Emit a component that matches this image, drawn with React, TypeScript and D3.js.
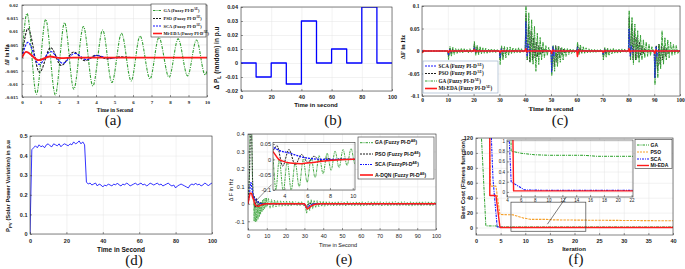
import React, { useEffect, useRef } from "react";
import * as d3 from "d3";

type P = [number, number];

const SERIF = "'Liberation Serif','Times New Roman',serif";
const SANS = "'Liberation Sans',Arial,sans-serif";
const C_GREEN = "#34a034";
const C_BLACK = "#1c1c1c";
const C_BLUE = "#1414ff";
const C_RED = "#ff1a1a";
const C_ORANGE = "#f5a02a";

// ---------------- (a) frequency deviation, 0-10 s ----------------
const aXTicks = [0, 1, 2, 3, 4, 5, 6, 7, 8, 9, 10];
const aYTicks = [-0.015, -0.01, -0.005, 0, 0.005, 0.01, 0.015, 0.02];
const aGA: P[] = [[0, 0], [0.27, 0.0168], [0.78, -0.0139], [1.28, 0.0145], [1.8, -0.0142], [2.3, 0.0133], [2.8, -0.012], [3.32, 0.0118], [3.83, -0.0108], [4.36, 0.0105], [4.86, -0.0095], [5.38, 0.0092], [5.9, -0.0089], [6.38, 0.0082], [6.92, -0.0081], [7.4, 0.0076], [7.95, -0.0075], [8.44, 0.0071], [8.95, -0.007], [9.43, 0.0067], [9.9, -0.0066], [10, -0.005]];
const aPSO: P[] = [[0, 0], [0.32, 0.011], [0.95, -0.0056], [1.55, 0.0038], [2.12, -0.003], [2.8, 0.0021], [3.4, -0.0012], [4.0, 0.0009], [4.6, -0.0005], [5.3, 0.0003], [6, 0], [10, 0]];
const aSCA: P[] = [[0, 0], [0.32, 0.0058], [0.92, -0.0026], [1.55, 0.0023], [2.2, -0.0022], [2.85, 0.0016], [3.5, -0.0008], [4.05, 0.0008], [4.7, -0.0002], [5.3, 0], [10, 0]];
const aMiEDA: P[] = [[0, 0], [0.22, 0.0022], [0.9, -0.001], [1.5, 0.0004], [2.1, -0.0002], [2.8, 0], [10, 0]];
const aLegend = ["GA (Fuzzy PI-D", "PSO (Fuzzy PI-D", "SCA (Fuzzy PI-D", "Mi-EDA (Fuzzy PI-D"];

// ---------------- (b) random load ----------------
const bXTicks = [0, 20, 40, 60, 80, 100];
const bYTicks = [-0.02, -0.01, 0, 0.01, 0.02, 0.03, 0.04];
const bTimes = [0, 10, 20, 30, 40, 50, 60, 70, 80, 90, 100];
const bValues = [0, -0.01, 0, -0.015, 0.03, 0, 0.01, 0, 0.04, 0, 0];

// ---------------- (c) frequency deviation, 0-100 s ----------------
const cXTicks = [0, 10, 20, 30, 40, 50, 60, 70, 80, 90, 100];
const cYTicks = [-0.1, -0.05, 0, 0.05, 0.1];
const cEvents = [10, 20, 30, 40, 50, 60, 70, 80, 90];
const cGA: number[][] = [
  [-0.019, 0.01, -0.012, 0.008, -0.008, 0.006, -0.006, 0.005, -0.004, 0.006, -0.004, 0.005, -0.003, 0.004, -0.004, 0.005, -0.003],
  [0.021, -0.01, 0.013, -0.008, 0.01, -0.006, 0.007, -0.005, 0.006, -0.005, 0.004, -0.004, 0.005, -0.003, 0.004, -0.004, 0.003],
  [-0.03, 0.012, -0.02, 0.01, -0.015, 0.008, -0.01, 0.009, -0.006, 0.007, -0.005, 0.006, -0.004, 0.007, -0.004, 0.005, -0.003],
  [0.1, -0.02, 0.085, -0.025, 0.07, -0.03, 0.055, -0.045, 0.04, -0.03, 0.03, -0.02, 0.02, -0.015, 0.012, -0.01, 0.008],
  [-0.055, 0.012, -0.045, 0.01, -0.035, 0.01, -0.025, 0.008, -0.02, 0.006, -0.012, 0.006, -0.008, 0.005, -0.006, 0.004, -0.004],
  [0.02, -0.008, 0.014, -0.006, 0.01, -0.005, 0.007, -0.004, 0.005, -0.004, 0.004, -0.003, 0.004, -0.003, 0.003, -0.003, 0.003],
  [-0.02, 0.008, -0.014, 0.006, -0.01, 0.005, -0.007, 0.006, -0.005, 0.004, -0.005, 0.004, -0.004, 0.005, -0.003, 0.004, -0.003],
  [0.09, -0.02, 0.075, -0.03, 0.06, -0.02, 0.045, -0.025, 0.035, -0.02, 0.025, -0.015, 0.02, -0.012, 0.015, -0.01, 0.01],
  [-0.075, 0.01, -0.06, 0.015, -0.04, 0.045, -0.03, 0.03, -0.02, 0.025, -0.015, 0.02, -0.01, 0.015, -0.008, 0.012, -0.006],
];
const cPSO: number[][] = [
  [-0.012, 0.006, -0.006, 0.004, -0.003, 0.002, -0.001],
  [0.015, -0.006, 0.008, -0.004, 0.004, -0.002, 0.001],
  [-0.02, 0.008, -0.012, 0.006, -0.006, 0.003, -0.002],
  [0.08, -0.02, 0.06, -0.025, 0.045, -0.02, 0.03, -0.015, 0.02, -0.012, 0.012, -0.008, 0.008, -0.005, 0.004],
  [-0.045, 0.01, -0.035, 0.012, -0.025, 0.01, -0.015, 0.006, -0.01, 0.004, -0.005],
  [0.012, -0.005, 0.007, -0.003, 0.003],
  [-0.013, 0.006, -0.007, 0.004, -0.003],
  [0.075, -0.02, 0.06, -0.02, 0.045, -0.02, 0.03, -0.015, 0.02, -0.01, 0.012, -0.006, 0.006],
  [-0.06, 0.012, -0.045, 0.015, -0.03, 0.012, -0.02, 0.01, -0.012, 0.006, -0.006],
];
const cSCA: number[][] = [
  [-0.01, 0.004, -0.002],
  [0.008, -0.003, 0.002],
  [-0.015, 0.005, -0.003],
  [0.065, -0.012, 0.015, -0.005, 0.004],
  [-0.047, 0.01, -0.012, 0.004, -0.002],
  [0.008, -0.003, 0.002],
  [-0.008, 0.003, -0.002],
  [0.05, -0.012, 0.012, -0.004, 0.003],
  [-0.06, 0.01, -0.012, 0.004, -0.002],
];
const cMiEDAEvents = [0, 10, 20, 30, 40, 50, 60, 70, 80, 90];
const cMiEDA: number[][] = [
  [-0.003, 0.001],
  [-0.003, 0.001],
  [0.003, -0.001],
  [-0.003, 0.001],
  [0.005, -0.002],
  [-0.005, 0.002],
  [-0.012, 0.002],
  [-0.003, 0.001],
  [0.005, -0.002],
  [-0.005, 0.002],
];
const cLegend = ["SCA (Fuzzy PI-D", "PSO (Fuzzy PI-D", "GA (Fuzzy PI-D", "Mi-EDA (Fuzzy PI-D"];

// ---------------- (d) PV power ----------------
const dXTicks = [0, 20, 40, 60, 80, 100];
const dYTicks = [0, 0.1, 0.2, 0.3, 0.4, 0.5];
const dPVFirst = [0, 0.43, 0.44, 0.45, 0.44, 0.455, 0.445, 0.45, 0.44, 0.455, 0.46,
  0.45, 0.445, 0.46, 0.455, 0.45, 0.46, 0.445, 0.455, 0.46, 0.455,
  0.45, 0.46, 0.455, 0.47, 0.46, 0.465, 0.475, 0.46, 0.47, 0.455];
const dPVSecond = [0.265, 0.255, 0.26, 0.25, 0.255, 0.26, 0.245, 0.255, 0.25, 0.24,
  0.25, 0.245, 0.255, 0.25, 0.245, 0.255, 0.25, 0.26, 0.25, 0.245,
  0.255, 0.25, 0.26, 0.255, 0.245, 0.25, 0.255, 0.26, 0.25, 0.255,
  0.26, 0.25, 0.255, 0.245, 0.25, 0.26, 0.255, 0.25, 0.255, 0.26,
  0.25, 0.255, 0.245, 0.25, 0.255, 0.26, 0.25, 0.245, 0.25, 0.235,
  0.245, 0.25, 0.255, 0.25, 0.245, 0.24, 0.235, 0.25, 0.255, 0.25,
  0.26, 0.25, 0.255, 0.245, 0.25, 0.26, 0.255, 0.245, 0.255, 0.26];

// ---------------- (e) frequency deviation with A-DQN ----------------
const eXTicks = [0, 10, 20, 30, 40, 50, 60, 70, 80, 90, 100];
const eYTicks = [-0.1, 0, 0.1, 0.2, 0.3, 0.4];
const eInXTicks = [4, 6, 8, 10];
const eInYTicks = [-0.1, -0.05, 0, 0.05];
const eGAHead: P[] = [[0, 0], [0.6, 0.06], [1.1, 0.45], [1.9, 0.45], [2.5, 0.06], [3.0, 0.0], [3.25, -0.1], [3.55, 0.0], [3.9, -0.105], [4.25, -0.008], [4.6, -0.1], [4.95, -0.01], [5.3, -0.09], [5.65, 0.0], [6.0, -0.075], [6.35, 0.005], [6.7, -0.06], [7.05, 0.012], [7.4, -0.047], [7.75, 0.02], [8.1, -0.036], [8.45, 0.027], [8.8, -0.027], [9.15, 0.032], [9.5, -0.02], [9.85, 0.035], [10.2, -0.015]];
const eGATail1 = [0.03, -0.025, 0.025, -0.02, 0.022, -0.018, 0.02, -0.015, 0.018, -0.014, 0.015, -0.012, 0.016, -0.013, 0.014, -0.012, 0.015, -0.01, 0.012, -0.012, 0.013, -0.01, 0.012, -0.01];
const eGATail2 = [-0.01, -0.055, 0.02, -0.04, 0.025, -0.03, 0.02, -0.022, 0.018, -0.018, 0.016, -0.015, 0.015, -0.014,
  0.013, -0.012, 0.014, -0.011, 0.012, -0.013, 0.011, -0.01, 0.013, -0.012,
  0.012, -0.011, 0.01, -0.012, 0.013, -0.01, 0.011, -0.012, 0.01, -0.011,
  0.012, -0.01, 0.011, -0.013, 0.012, -0.011, 0.01, -0.012, 0.013, -0.01,
  0.011, -0.012, 0.012, -0.01, 0.013, -0.011, 0.012, -0.012, 0.01, -0.011,
  0.012, -0.013, 0.011, -0.01, 0.012, -0.011, 0.013, -0.012, 0.011, -0.01,
  0.012, -0.011, 0.013, -0.012, 0.01, -0.011, 0.012, -0.013, 0.011, -0.012,
  0.012, -0.01, 0.011, -0.012, 0.013, -0.011, 0.012, -0.01, 0.011, -0.012, 0.012, -0.011, 0.01];
const ePSO: P[] = [[0, 0], [0.9, 0.2], [1.3, 0.45], [1.9, 0.45], [2.4, 0.15], [2.8, 0.04], [3.0, 0.03], [3.35, 0.045], [3.85, -0.022], [4.4, 0.032], [4.95, -0.018], [5.5, 0.016], [6.05, -0.01], [6.6, 0.01], [7.15, -0.005], [7.7, 0.004], [8.3, -0.002], [8.9, 0.002], [9.5, 0], [30, 0], [31.2, -0.015], [32.5, 0.004], [34, 0], [100, 0]];
const eSCA: P[] = [[0, 0], [0.8, 0.05], [1.3, 0.12], [1.7, 0.12], [2.3, 0.07], [3.0, 0.04], [3.5, 0.03], [4.5, 0.02], [5.5, 0.008], [6.5, 0.002], [7.5, 0], [30, 0], [30.8, -0.018], [31.5, -0.02], [33, -0.008], [35, 0], [100, 0]];
const eADQN: P[] = [[0, 0], [0.5, 0.03], [1.2, 0.06], [1.8, 0.06], [2.5, 0.035], [3.0, 0.025], [3.5, 0.0], [3.8, -0.005], [4.5, -0.012], [5.5, -0.014], [6.5, -0.01], [7.5, -0.005], [9, -0.001], [10, 0], [30, 0], [30.6, -0.01], [31.5, -0.03], [32.5, -0.022], [34, -0.01], [36, -0.002], [38, 0], [100, 0]];
const eLegend = ["GA (Fuzzy PI-D", "PSO (Fuzzy PI-D", "SCA (FuzzyPI-D", "A-DQN (Fuzzy PI-D"];

// ---------------- (f) convergence ----------------
const fXTicks = [0, 5, 10, 15, 20, 25, 30, 35, 40];
const fYTicks = [0, 20, 40, 60, 80, 100, 120];
const fInXTicks = [4, 6, 8, 10, 12, 14, 16, 18, 20, 22];
const fInYTicks = [0, 0.2, 0.4, 0.6, 0.8, 1];
const fGA: P[] = [[1.0, 135], [2.0, 2.2], [4.5, 2.1], [4.6, 0.8], [5, 0.79], [6, 0.76], [8, 0.73], [10, 0.72], [15, 0.72], [17, 0.7], [22, 0.7], [40, 0.7]];
const fPSO: P[] = [[2.7, 135], [2.95, 55.5], [4.05, 55.5], [4.85, 17.5], [7.5, 17], [8.3, 15.5], [9.5, 13], [11, 11], [14, 11], [15.5, 10.3], [20, 10], [30, 9.5], [40, 9]];
const fSCA: P[] = [[3.05, 135], [3.2, 106], [3.45, 65], [3.8, 38], [4.3, 1.1], [4.6, 0.2], [6.5, 0.04], [10, 0.03], [40, 0.03]];
const fMiEDA: P[] = [[2.8, 135], [2.8, 43], [4.05, 43], [4.85, 1.1], [4.95, 0.02], [40, 0.02]];
const fLegend = ["GA", "PSO", "SCA", "Mi-EDA"];

const captions = ["(a)", "(b)", "(c)", "(d)", "(e)", "(f)"];

function buildEvents(events: number[], lists: number[][], lead: number, dt: number, end: number): P[] {
  const pts: P[] = [[0, 0]];
  events.forEach((t0, k) => {
    if (t0 > 0) pts.push([t0, 0]);
    const vals = lists[k];
    vals.forEach((v, i) => pts.push([t0 + lead + i * dt, v]));
    pts.push([t0 + lead + vals.length * dt, 0]);
  });
  pts.push([end, 0]);
  return pts;
}
function buildRun(start: number, dt: number, vals: number[]): P[] {
  return vals.map((v, i) => [start + i * dt, v] as P);
}
const fmt = (v: number) => String(+v.toFixed(4));

function drawFrame(g: any, xs: any, ys: any, o: any) {
  const [xa, xb] = xs.range();
  const [yb, ya] = ys.range();
  const w = xb - xa, h = yb - ya;
  g.append("rect").attr("x", xa).attr("y", ya).attr("width", w).attr("height", h).attr("fill", "#fff");
  const gx = g.append("g").attr("transform", `translate(0,${yb})`)
    .call(d3.axisBottom(xs).tickValues(o.xTicks).tickSize(-h).tickFormat(() => ""));
  gx.select(".domain").remove();
  gx.selectAll("line").attr("stroke", "#e4e4e4").attr("stroke-width", 0.5);
  const gy = g.append("g").attr("transform", `translate(${xa},0)`)
    .call(d3.axisLeft(ys).tickValues(o.yTicks).tickSize(-w).tickFormat(() => ""));
  gy.select(".domain").remove();
  gy.selectAll("line").attr("stroke", "#e4e4e4").attr("stroke-width", 0.5);
}
function drawAxes(g: any, xs: any, ys: any, o: any) {
  const [xa, xb] = xs.range();
  const [yb, ya] = ys.range();
  const ax = g.append("g").attr("transform", `translate(0,${yb})`)
    .call(d3.axisBottom(xs).tickValues(o.xTicks).tickSizeInner(-2).tickSizeOuter(0).tickPadding(o.xPad).tickFormat(o.xFmt || fmt));
  const ay = g.append("g").attr("transform", `translate(${xa},0)`)
    .call(d3.axisLeft(ys).tickValues(o.yTicks).tickSizeInner(-2).tickSizeOuter(0).tickPadding(o.yPad).tickFormat(o.yFmt || fmt));
  [ax, ay].forEach((a) => {
    a.attr("font-family", o.font).attr("font-size", o.size).attr("font-weight", o.weight);
    a.select(".domain").remove();
    a.selectAll("line").attr("stroke", "#333").attr("stroke-width", 0.5);
    a.selectAll("text").attr("fill", "#222");
  });
  g.append("rect").attr("x", xa).attr("y", ya).attr("width", xb - xa).attr("height", yb - ya)
    .attr("fill", "none").attr("stroke", "#333").attr("stroke-width", 0.6);
}
function clipGroup(svg: any, g: any, id: string, xs: any, ys: any) {
  const [xa, xb] = xs.range();
  const [yb, ya] = ys.range();
  svg.select("defs").append("clipPath").attr("id", id).append("rect")
    .attr("x", xa).attr("y", ya).attr("width", xb - xa).attr("height", yb - ya);
  return g.append("g").attr("clip-path", `url(#${id})`);
}
function path(g: any, data: P[], xs: any, ys: any, color: string, width: number, dash: string | null, curve: any) {
  const gen = d3.line<P>().x((d) => xs(d[0])).y((d) => ys(d[1])).curve(curve);
  g.append("path").datum(data).attr("d", gen).attr("fill", "none").attr("stroke", color)
    .attr("stroke-width", width).attr("stroke-dasharray", dash).attr("stroke-linejoin", "round");
}
function supText(g: any, x: number, y: number, base: string, sup: string | null, o: any) {
  const t = g.append("text").attr("x", x).attr("y", y).attr("font-family", o.font).attr("font-size", o.size)
    .attr("font-weight", o.weight).attr("fill", "#111");
  t.append("tspan").text(base);
  if (sup) {
    t.append("tspan").attr("dy", -o.size * 0.42).attr("font-size", o.size * 0.7).text(sup);
    t.append("tspan").attr("dy", o.size * 0.42).text(")");
  }
  return t;
}
function legend(g: any, box: number[], entries: any[], o: any) {
  g.append("rect").attr("x", box[0]).attr("y", box[1]).attr("width", box[2] - box[0]).attr("height", box[3] - box[1])
    .attr("fill", "#fff").attr("stroke", o.border || "#333").attr("stroke-width", 0.6);
  entries.forEach((e, i) => {
    const yy = o.rows[i];
    g.append("line").attr("x1", o.lx1).attr("x2", o.lx2).attr("y1", yy).attr("y2", yy)
      .attr("stroke", e.color).attr("stroke-width", e.width).attr("stroke-dasharray", e.dash);
    supText(g, o.tx, yy + o.size * 0.35, e.label, o.sup, o);
  });
}
function yLabel(g: any, x: number, y: number, parts: any[], o: any) {
  const t = g.append("text").attr("transform", `translate(${x},${y}) rotate(-90)`).attr("text-anchor", "middle")
    .attr("font-family", o.font).attr("font-size", o.size).attr("font-weight", o.weight).attr("fill", "#111");
  parts.forEach((p) => {
    const s = t.append("tspan").text(p.t);
    if (p.sub) s.attr("font-size", o.size * 0.75).attr("dy", o.size * 0.3);
    if (p.back) s.attr("dy", -o.size * 0.3);
  });
}
function xLabel(g: any, x: number, y: number, text: string, o: any) {
  g.append("text").attr("x", x).attr("y", y).attr("text-anchor", "middle").attr("font-family", o.font)
    .attr("font-size", o.size).attr("font-weight", o.weight).attr("fill", "#111").text(text);
}

export default function App() {
  const ref = useRef<SVGSVGElement>(null);
  useEffect(() => {
    const svg = d3.select(ref.current);
    svg.selectAll("*").remove();
    svg.append("defs");
    svg.append("rect").attr("width", 685).attr("height", 269).attr("fill", "#fff");
    const root = svg.append("g");
    const lin = d3.curveLinear;
    const mono = d3.curveMonotoneX;

    // ---------- (a) ----------
    {
      const g = root.append("g");
      const xs = d3.scaleLinear().domain([0, 10]).range([22, 207]);
      const ys = d3.scaleLinear().domain([-0.015, 0.02]).range([97, 5]);
      drawFrame(g, xs, ys, { xTicks: aXTicks, yTicks: aYTicks });
      const c = clipGroup(svg, g, "clipA", xs, ys);
      path(c, aGA, xs, ys, C_GREEN, 1.1, "3,1.2,1,1.2", mono);
      path(c, aPSO, xs, ys, C_BLACK, 1.1, "2.5,1.2", mono);
      path(c, aSCA, xs, ys, C_BLUE, 1.1, "2.5,1.2", mono);
      path(c, aMiEDA, xs, ys, C_RED, 1.8, null, mono);
      drawAxes(g, xs, ys, { xTicks: aXTicks, yTicks: aYTicks, xPad: 3.5, yPad: 4, font: SERIF, size: 5, weight: "bold" });
      legend(g, [151, 4, 206, 37], [
        { label: aLegend[0], color: C_GREEN, width: 1, dash: "2.5,1,1,1" },
        { label: aLegend[1], color: C_BLACK, width: 1, dash: "2,1" },
        { label: aLegend[2], color: C_BLUE, width: 1, dash: "2,1" },
        { label: aLegend[3], color: C_RED, width: 1.6, dash: null },
      ], { rows: [10.5, 18.5, 26, 33.5], lx1: 153, lx2: 162, tx: 163.5, font: SERIF, size: 4.4, weight: "bold", sup: "AE" });
      xLabel(g, 115, 112, "Time in Second", { font: SERIF, size: 5.5, weight: "bold" });
      yLabel(g, 9, 55, [{ t: "ΔF in Hz" }], { font: SERIF, size: 5.5, weight: "bold" });
    }

    // ---------- (b) ----------
    {
      const g = root.append("g");
      const xs = d3.scaleLinear().domain([0, 100]).range([241, 392]);
      const ys = d3.scaleLinear().domain([-0.02, 0.04]).range([91, 7]);
      drawFrame(g, xs, ys, { xTicks: bXTicks, yTicks: bYTicks });
      const pts: P[] = bTimes.map((t, i) => [t, bValues[i]] as P);
      const c = clipGroup(svg, g, "clipB", xs, ys);
      path(c, pts, xs, ys, "#0000ff", 1.3, null, d3.curveStepAfter);
      drawAxes(g, xs, ys, { xTicks: bXTicks, yTicks: bYTicks, xPad: 4, yPad: 3, font: SANS, size: 5.5, weight: "bold" });
      xLabel(g, 316, 107, "Time in second", { font: SANS, size: 6, weight: "bold" });
      yLabel(g, 219, 58, [{ t: "Δ P" }, { t: "L", sub: true }, { t: " (random) in p.u", back: true }], { font: SANS, size: 6.5, weight: "bold" });
    }

    // ---------- (c) ----------
    {
      const g = root.append("g");
      const xs = d3.scaleLinear().domain([0, 100]).range([422, 680]);
      const ys = d3.scaleLinear().domain([-0.1, 0.1]).range([96, 6]);
      drawFrame(g, xs, ys, { xTicks: cXTicks, yTicks: cYTicks });
      const c = clipGroup(svg, g, "clipC", xs, ys);
      path(c, buildEvents(cEvents, cPSO, 0.3, 0.5, 100), xs, ys, C_BLACK, 0.9, "2,0.7", lin);
      path(c, buildEvents(cEvents, cGA, 0.3, 0.55, 100), xs, ys, C_GREEN, 1.0, "3,0.7,1,0.7", lin);
      path(c, buildEvents(cEvents, cSCA, 0.25, 0.45, 100), xs, ys, C_BLUE, 0.8, "2,0.8", lin);
      path(c, buildEvents(cMiEDAEvents, cMiEDA, 0.25, 0.4, 100), xs, ys, C_RED, 1.5, null, lin);
      drawAxes(g, xs, ys, { xTicks: cXTicks, yTicks: cYTicks, xPad: 2.5, yPad: 2.5, font: SERIF, size: 5.5, weight: "bold" });
      legend(g, [423, 61, 498, 93], [
        { label: cLegend[0], color: C_BLUE, width: 1, dash: "2,1" },
        { label: cLegend[1], color: C_BLACK, width: 1, dash: "2,1" },
        { label: cLegend[2], color: C_GREEN, width: 1, dash: "2.5,1,1,1" },
        { label: cLegend[3], color: C_RED, width: 1.6, dash: null },
      ], { rows: [66, 73.5, 81, 88.5], lx1: 425, lx2: 437, tx: 438.5, font: SERIF, size: 5.2, weight: "bold", sup: "AE", border: "#8fa9c4" });
      xLabel(g, 551, 111, "Time in second", { font: SERIF, size: 7, weight: "bold" });
      yLabel(g, 405, 47, [{ t: "ΔF in Hz" }], { font: SERIF, size: 6.5, weight: "bold" });
    }

    // ---------- (d) ----------
    {
      const g = root.append("g");
      const xs = d3.scaleLinear().domain([0, 100]).range([30, 212]);
      const ys = d3.scaleLinear().domain([0, 0.5]).range([234, 136]);
      drawFrame(g, xs, ys, { xTicks: dXTicks, yTicks: dYTicks });
      const pts = [...buildRun(0, 1, dPVFirst), ...buildRun(31, 1, dPVSecond)];
      const c = clipGroup(svg, g, "clipD", xs, ys);
      path(c, pts, xs, ys, "#0000ff", 0.8, null, lin);
      drawAxes(g, xs, ys, { xTicks: dXTicks, yTicks: dYTicks, xPad: 4.6, yPad: 2.5, font: SANS, size: 5.5, weight: "bold" });
      xLabel(g, 121, 252, "Time in Second", { font: SANS, size: 6.5, weight: "bold" });
      yLabel(g, 10, 186, [{ t: "P" }, { t: "PV", sub: true }, { t: " (Solar Power Variation) in p.u", back: true }], { font: SANS, size: 5.8, weight: "bold" });
    }

    // ---------- (e) ----------
    {
      const g = root.append("g");
      const xs = d3.scaleLinear().domain([0, 100]).range([248, 436]);
      const ys = d3.scaleLinear().domain([-0.15, 0.4]).range([230, 134]);
      drawFrame(g, xs, ys, { xTicks: eXTicks, yTicks: eYTicks });
      const ga: P[] = [...eGAHead, ...buildRun(10.9, 0.8, eGATail1), ...buildRun(30.4, 0.8, eGATail2), [100, 0]];
      const c = clipGroup(svg, g, "clipE", xs, ys);
      path(c, ga, xs, ys, C_GREEN, 0.8, "2.5,0.8,1,0.8", lin);
      path(c, ePSO, xs, ys, C_BLACK, 0.9, "2,1", lin);
      path(c, eSCA, xs, ys, C_BLUE, 1.1, "2,1", lin);
      path(c, eADQN, xs, ys, C_RED, 1.5, null, mono);
      drawAxes(g, xs, ys, { xTicks: eXTicks, yTicks: eYTicks, xPad: 4, yPad: 3.5, font: SANS, size: 5.5, weight: "normal" });
      // inset
      const xi = d3.scaleLinear().domain([3, 10.2]).range([273, 355]);
      const yi = d3.scaleLinear().domain([-0.1, 0.055]).range([190, 142.5]);
      const gi = g.append("g");
      drawFrame(gi, xi, yi, { xTicks: eInXTicks, yTicks: eInYTicks });
      const ci = clipGroup(svg, gi, "clipEi", xi, yi);
      path(ci, ga, xi, yi, C_GREEN, 0.9, "2.5,0.8,1,0.8", mono);
      path(ci, ePSO, xi, yi, C_BLACK, 1, "2,1", mono);
      path(ci, eSCA, xi, yi, C_BLUE, 1.3, "2,1", mono);
      path(ci, eADQN, xi, yi, C_RED, 1.5, null, mono);
      drawAxes(gi, xi, yi, { xTicks: eInXTicks, yTicks: eInYTicks, xPad: 4, yPad: 2, font: SANS, size: 5.5, weight: "normal" });
      g.append("line").attr("x1", xs(3.8)).attr("y1", ys(0.012)).attr("x2", xs(12.5)).attr("y2", ys(0.11))
        .attr("stroke", "#222").attr("stroke-width", 0.5);
      legend(g, [358, 137, 434, 179], [
        { label: eLegend[0], color: C_GREEN, width: 1, dash: "2.5,1,1,1" },
        { label: eLegend[1], color: C_BLACK, width: 1, dash: "2,1" },
        { label: eLegend[2], color: C_BLUE, width: 1.2, dash: "2,1,1,1" },
        { label: eLegend[3], color: C_RED, width: 1.6, dash: null },
      ], { rows: [142.7, 154, 164.5, 175], lx1: 360, lx2: 373, tx: 375, font: SANS, size: 5, weight: "bold", sup: "AE" });
      xLabel(g, 338, 247, "Time in Second", { font: SANS, size: 5.5, weight: "normal" });
      yLabel(g, 233, 190, [{ t: "Δ F in Hz" }], { font: SANS, size: 5.5, weight: "normal" });
    }

    // ---------- (f) ----------
    {
      const g = root.append("g");
      const xs = d3.scaleLinear().domain([0, 40]).range([476, 673]);
      const ys = d3.scaleLinear().domain([-10, 120]).range([235, 138]);
      drawFrame(g, xs, ys, { xTicks: fXTicks, yTicks: fYTicks });
      const c = clipGroup(svg, g, "clipF", xs, ys);
      path(c, fGA, xs, ys, "#28a028", 1, "3,1,1,1", lin);
      path(c, fPSO, xs, ys, C_ORANGE, 1.1, "2.5,1", lin);
      path(c, fSCA, xs, ys, C_BLUE, 1.1, "2.5,1,1,1", lin);
      path(c, fMiEDA, xs, ys, C_RED, 1.4, null, lin);
      drawAxes(g, xs, ys, { xTicks: fXTicks, yTicks: fYTicks, xPad: 4, yPad: 3, font: SANS, size: 5.5, weight: "bold" });
      // zoom box and pointer
      g.append("rect").attr("x", xs(7.1)).attr("y", ys(34)).attr("width", xs(22.3) - xs(7.1)).attr("height", ys(-5) - ys(34))
        .attr("fill", "none").attr("stroke", "#444").attr("stroke-width", 0.7);
      g.append("line").attr("x1", xs(14.5)).attr("y1", ys(4.5)).attr("x2", xs(19.8)).attr("y2", ys(55))
        .attr("stroke", "#222").attr("stroke-width", 0.6);
      // inset
      const xi = d3.scaleLinear().domain([4, 22.2]).range([507, 633]);
      const yi = d3.scaleLinear().domain([-0.1, 1.02]).range([197, 140]);
      const gi = g.append("g");
      drawFrame(gi, xi, yi, { xTicks: fInXTicks, yTicks: fInYTicks });
      const ci = clipGroup(svg, gi, "clipFi", xi, yi);
      path(ci, fGA, xi, yi, "#28a028", 1, "3,1,1,1", lin);
      path(ci, fPSO, xi, yi, C_ORANGE, 1.1, "2.5,1", lin);
      path(ci, fSCA, xi, yi, C_BLUE, 1.1, "2.5,1,1,1", lin);
      path(ci, fMiEDA, xi, yi, C_RED, 1.4, null, lin);
      drawAxes(gi, xi, yi, { xTicks: fInXTicks, yTicks: fInYTicks, xPad: 2, yPad: 2, font: SANS, size: 4.5, weight: "normal" });
      legend(g, [635, 139.5, 672, 168.5], [
        { label: fLegend[0], color: "#28a028", width: 1, dash: "2.5,1,1,1" },
        { label: fLegend[1], color: C_ORANGE, width: 1, dash: "2,1" },
        { label: fLegend[2], color: C_BLUE, width: 1, dash: "2,1,1,1" },
        { label: fLegend[3], color: C_RED, width: 1.4, dash: null },
      ], { rows: [145, 152, 159, 165.5], lx1: 637, lx2: 649, tx: 650.5, font: SANS, size: 5, weight: "bold", sup: null });
      xLabel(g, 574, 250.5, "Iteration", { font: SANS, size: 6, weight: "bold" });
      yLabel(g, 465, 179, [{ t: "Best Cost (Fitness function)" }], { font: SANS, size: 6, weight: "bold" });
    }

    // ---------- captions ----------
    const capPos: P[] = [[113, 125], [333, 125], [560, 125], [134, 265], [344, 264], [576, 264]];
    captions.forEach((t, i) => {
      root.append("text").attr("x", capPos[i][0]).attr("y", capPos[i][1]).attr("text-anchor", "middle")
        .attr("font-family", SERIF).attr("font-size", 15).attr("fill", "#111").text(t);
    });
  }, []);
  return (
    <div style={{ position: "absolute", left: 0, top: 0 }}>
      <svg ref={ref} width={685} height={269} style={{ display: "block" }} />
    </div>
  );
}
